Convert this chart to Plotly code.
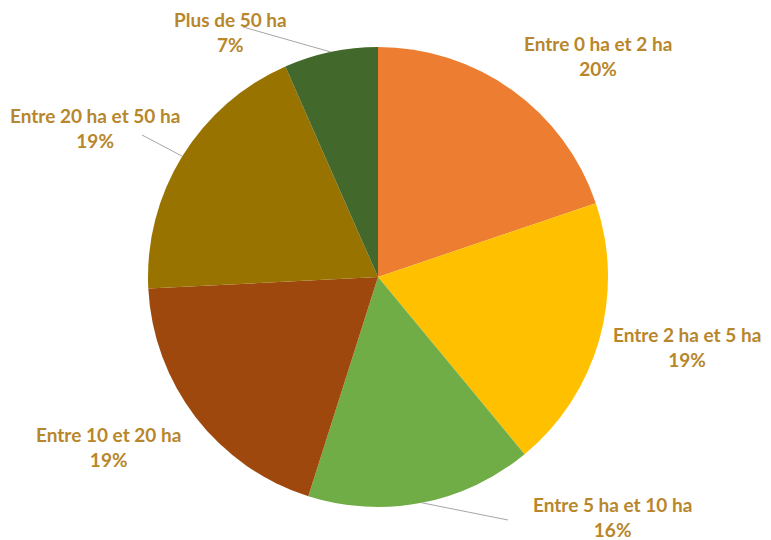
import math
import plotly.graph_objects as go

labels = ["Entre 0 ha et 2 ha", "Entre 2 ha et 5 ha", "Entre 5 ha et 10 ha",
          "Entre 10 et 20 ha", "Entre 20 ha et 50 ha", "Plus de 50 ha"]
values = [19.8, 19.2, 15.9, 19.3, 19.2, 6.6]
colors = ["#ED7D31", "#FFC000", "#70AD47", "#9E480E", "#997300", "#43682B"]

# the page body has an 8px default margin: work in screen pixels and shift
OFF = 8
W, H = 771 - OFF, 540 - OFF
cx, cy, R = 378 - OFF, 277 - OFF, 230


def px(x):
    return (x - OFF) / W


def py(y):
    return 1 - (y - OFF) / H


fig = go.Figure(go.Pie(
    labels=labels, values=values, sort=False, direction="clockwise", rotation=0,
    marker=dict(colors=colors, line=dict(width=0)),
    textinfo="none", hoverinfo="label+percent", showlegend=False,
    domain=dict(x=[(cx - R) / W, (cx + R) / W], y=[1 - (cy + R) / H, 1 - (cy - R) / H]),
))

# label placement (screen pixel centres) and leader-line end points
label_pos = [(598, 56), (687, 347), (612, 517), (108, 447), (95, 128), (230, 32)]
line_end = [None, None, (508, 520), None, (142, 135), (243, 27)]

total = sum(values)
cum = 0.0
shapes = []
annotations = []
for i, (lab, v) in enumerate(zip(labels, values)):
    mid = (cum + v / 2) / total * 2 * math.pi
    cum += v
    pct = round(v / total * 100)
    lx, ly = label_pos[i]
    annotations.append(dict(
        x=px(lx), y=py(ly), xref="paper", yref="paper",
        text=f"{lab}<br>{pct}%", showarrow=False, align="center",
        font=dict(family="Lato", size=19, color="#B8862B", weight="bold"),
        xanchor="center", yanchor="middle",
    ))
    if line_end[i]:
        ex = 378 + R * math.sin(mid)
        ey = 277 - R * math.cos(mid)
        tx, ty = line_end[i]
        shapes.append(dict(type="line", xref="paper", yref="paper",
                           x0=px(ex), y0=py(ey), x1=px(tx), y1=py(ty),
                           line=dict(color="#A6A6A6", width=1)))

fig.update_layout(
    width=W, height=H, margin=dict(l=0, r=0, t=0, b=0),
    paper_bgcolor="white", plot_bgcolor="white",
    annotations=annotations, shapes=shapes,
)
fig.write_html("out.html")
